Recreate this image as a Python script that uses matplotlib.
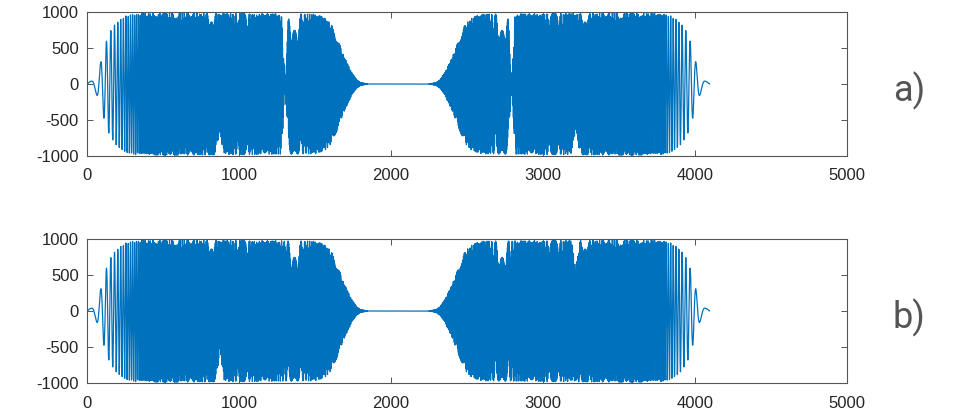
import numpy as np
import matplotlib
matplotlib.use("Agg")
import matplotlib.pyplot as plt

plt.rcParams["font.family"] = ["Liberation Sans", "DejaVu Sans"]
plt.rcParams["axes.unicode_minus"] = False

# sweep length and peak amplitude
n_samples = 4096
peak = 1000

# band-pass envelope over the first half of the sweep (sample index, relative amplitude)
env_idx = [0, 30, 64, 90, 120, 150, 185, 220, 260, 320, 500, 1500, 1566, 1610, 1643, 1684, 1741, 1774, 1800, 1850, 2048]
env_amp = [0.0, 0.05, 0.15, 0.3, 0.55, 0.72, 0.83, 0.9, 0.95, 0.98, 0.99, 0.97, 0.92, 0.82, 0.66, 0.42, 0.16, 0.06, 0.02, 0.0, 0.0]

# notch in panel a): offset from the notch centre and relative gain
notch_center = 1303
notch_off = [-30, -22, -12, 0, 12, 22, 30]
notch_gain = [1.0, 0.95, 0.5, 0.0, 0.5, 0.95, 1.0]

# one-sided amplitude dips: (centre sample, relative depth), upper and lower side
dip_off = [-28, 0, 28]
dips_a_lower = [(872, 0.66), (3215, 0.64)]
dips_a_upper = []
dips_b_lower = [(875, 0.55)]
dips_b_upper = [(3215, 0.6)]

x_ticks = [0, 1000, 2000, 3000, 4000, 5000]
y_ticks = [-1000, -500, 0, 500, 1000]
panel_labels = ["a)", "b)"]

k = np.arange(n_samples)
half = np.minimum(k, n_samples - k)
carrier = np.cos(np.pi * k.astype(float) ** 2 / n_samples)
envelope = np.interp(half, env_idx, env_amp)
notch = np.interp(half - notch_center, notch_off, notch_gain)


def side_gain(dips):
    g = np.ones(n_samples)
    for c, depth in dips:
        g = np.minimum(g, np.interp(k - c, dip_off, [1.0, depth, 1.0]))
    return g


def shape(base, upper, lower):
    return np.where(base >= 0, base * side_gain(upper), base * side_gain(lower))


signal_a = shape(peak * envelope * notch * carrier, dips_a_upper, dips_a_lower)
signal_b = shape(peak * envelope * carrier, dips_b_upper, dips_b_lower)

fig = plt.figure(figsize=(9.57, 4.19), dpi=100)
ax_a = fig.add_axes([0.0909, 0.6277, 0.7942, 0.3437])
ax_b = fig.add_axes([0.0909, 0.0859, 0.7942, 0.3437])

for ax, sig, lab, ly in [(ax_a, signal_a, panel_labels[0], 0.783),
                         (ax_b, signal_b, panel_labels[1], 0.241)]:
    ax.plot(k, sig, color="#0072BD", lw=0.9)
    ax.set_xlim(0, 5000)
    ax.set_ylim(-1000, 1000)
    ax.set_xticks(x_ticks)
    ax.set_yticks(y_ticks)
    ax.tick_params(direction="in", top=True, right=True, length=4,
                   width=0.7, color="#555555", labelsize=12,
                   labelcolor="#262626")
    ax.tick_params(axis="x", pad=9)
    ax.tick_params(axis="y", pad=6)
    for sp in ax.spines.values():
        sp.set_color("#555555")
        sp.set_linewidth(0.8)
    fig.text(0.95, ly, lab, fontsize=26, color="#555555",
             family=["Roboto", "DejaVu Sans"], ha="center", va="center")

fig.savefig("out.png", dpi=100)
